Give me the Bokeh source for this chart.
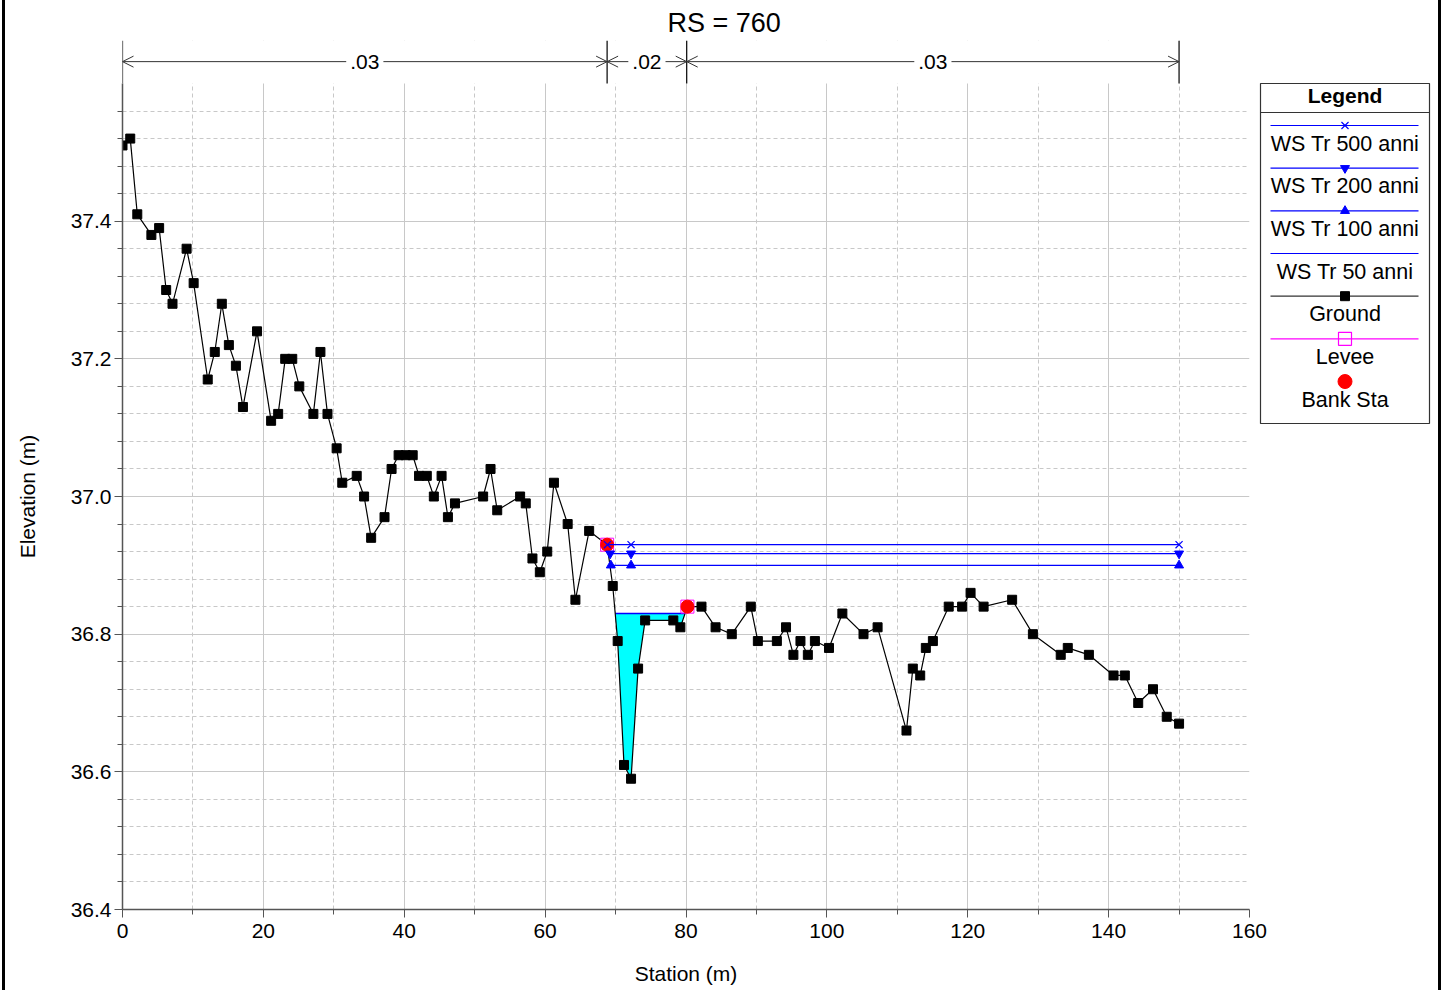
import math
from bokeh.plotting import figure
from bokeh.models import (Range1d, FixedTicker, BoxAnnotation, Arrow, OpenHead,
                          Label, ColumnDataSource, PrintfTickFormatter, Spacer)
from bokeh.layouts import row
from bokeh.embed import file_html
from bokeh.resources import INLINE
from bokeh.core.properties import value

FONT = "Liberation Sans"

# ---------------- data ----------------
ground_sta = [0.0, 1.1, 2.1, 4.1, 5.2, 6.2, 7.1, 9.1, 10.1, 12.1, 13.1, 14.1, 15.1, 16.1,
              17.1, 19.1, 21.1, 22.1, 23.1, 24.1, 25.1, 27.1, 28.1, 29.1, 30.4, 31.2,
              33.25, 34.3, 35.3, 37.2, 38.2, 39.2, 40.2, 41.2, 42.1, 43.2, 44.2, 45.3,
              46.2, 47.2, 51.2, 52.25, 53.2, 56.45, 57.25, 58.2, 59.25, 60.3, 61.25,
              63.2, 64.3, 66.25, 68.8, 69.6, 70.3, 71.2, 72.2, 73.2, 74.2, 78.2, 79.2,
              80.2, 82.2, 84.2, 86.5, 89.2, 90.2, 92.9, 94.2, 95.25, 96.25, 97.3, 98.3,
              100.3, 102.2, 105.2, 107.2, 111.3, 112.2, 113.25, 114.05, 115.05, 117.3,
              119.2, 120.4, 122.25, 126.3, 129.25, 133.2, 134.2, 137.2, 140.7, 142.3,
              144.2, 146.3, 148.25, 150.0]
ground_elev = [37.51, 37.52, 37.41, 37.38, 37.39, 37.30, 37.28, 37.36, 37.31, 37.17, 37.21,
               37.28, 37.22, 37.19, 37.13, 37.24, 37.11, 37.12, 37.20, 37.20, 37.16, 37.12,
               37.21, 37.12, 37.07, 37.02, 37.03, 37.00, 36.94, 36.97, 37.04, 37.06, 37.06,
               37.06, 37.03, 37.03, 37.00, 37.03, 36.97, 36.99, 37.00, 37.04, 36.98, 37.00,
               36.99, 36.91, 36.89, 36.92, 37.02, 36.96, 36.85, 36.95, 36.93, 36.87, 36.79,
               36.61, 36.59, 36.75, 36.82, 36.82, 36.81, 36.84, 36.84, 36.81, 36.80, 36.84,
               36.79, 36.79, 36.81, 36.77, 36.79, 36.77, 36.79, 36.78, 36.83, 36.80, 36.81,
               36.66, 36.75, 36.74, 36.78, 36.79, 36.84, 36.84, 36.86, 36.84, 36.85, 36.80,
               36.77, 36.78, 36.77, 36.74, 36.74, 36.70, 36.72, 36.68, 36.67]

bank_sta = [68.8, 80.2]
bank_elev = [36.93, 36.84]
levee_sta = [68.8, 80.2]
levee_elev = [36.93, 36.84]

ws500_sta = [68.85, 72.2, 150.0]
ws500_elev = 36.93
ws200_sta = [69.23, 72.2, 150.0]
ws200_elev = 36.917
ws100_sta = [69.33, 72.2, 150.0]
ws100_elev = 36.90
ws50_sta = [69.95, 79.85]
ws50_elev = 36.83

n_bounds = [0.0, 68.8, 80.1, 150.0]
n_values = [".03", ".02", ".03"]

x_ticks = [0, 20, 40, 60, 80, 100, 120, 140, 160]
x_minor = [10, 30, 50, 70, 90, 110, 130, 150]
y_ticks = [36.4, 36.6, 36.8, 37.0, 37.2, 37.4]
y_minor = [36.44, 36.48, 36.52, 36.56, 36.64, 36.68, 36.72, 36.76, 36.84, 36.88,
           36.92, 36.96, 37.04, 37.08, 37.12, 37.16, 37.24, 37.28, 37.32, 37.36,
           37.44, 37.48, 37.52, 37.56]

x_title = "Station (m)"
y_title = "Elevation (m)"
legend_labels = ["WS Tr 500 anni", "WS Tr 200 anni", "WS Tr 100 anni", "WS Tr 50 anni",
                 "Ground", "Levee", "Bank Sta"]

# layout constants (page pixels unless noted)
H = 990
TOP = 40
BOTTOM = 81
Y_TOP = 37.6625          # data value at the top of the frame
GRID_TOP = 37.6          # top of the gridded area
ARROW_Y = 37.6318        # roughness arrows
OVERLAP = 17
YLAB_W = 50              # width of the strip holding the y-axis title

# ---------------- y-axis title strip ----------------
yl = figure(width=YLAB_W, height=H, x_range=Range1d(5, 5 + YLAB_W), y_range=Range1d(BOTTOM, H - TOP),
            output_backend="svg", toolbar_location=None, x_axis_type=None, y_axis_type=None,
            min_border_left=0, min_border_right=0, min_border_top=TOP, min_border_bottom=BOTTOM)
yl.outline_line_color = None
yl.background_fill_color = None
yl.border_fill_color = None
yl.grid.visible = False
yl.text(x=[27], y=[H - 496], text=[y_title], angle=math.pi / 2, text_font=value(FONT),
        text_font_size="21px", text_align="center", text_baseline="middle", text_color="black")

# ---------------- main figure ----------------
p = figure(width=1247 + OVERLAP - YLAB_W, height=H, x_range=Range1d(0, 160),
           y_range=Range1d(36.4, Y_TOP),
           output_backend="svg", toolbar_location=None, title="RS = 760",
           min_border_left=117 - YLAB_W, min_border_right=3 + OVERLAP, min_border_top=TOP,
           min_border_bottom=BOTTOM)
p.outline_line_color = None
p.title.align = "left"
p.title.offset = 545
p.title.text_font = FONT
p.title.text_font_size = "27px"
p.title.text_font_style = "normal"
p.title.text_color = "black"
p.title.standoff = 6

for ax in (p.xaxis[0], p.yaxis[0]):
    ax.axis_line_color = "#555555"
    ax.axis_line_width = 1.5
    ax.major_tick_line_color = "#555555"
    ax.minor_tick_line_color = "#555555"
    ax.major_tick_in = 0
    ax.minor_tick_in = 0
    ax.major_tick_out = 8
    ax.minor_tick_out = 5
    ax.major_label_text_font = FONT
    ax.major_label_text_font_size = "21px"
    ax.major_label_text_color = "black"
    ax.axis_label_text_font = FONT
    ax.axis_label_text_font_size = "21px"
    ax.axis_label_text_font_style = "normal"
    ax.axis_label_text_color = "black"

p.xaxis.ticker = FixedTicker(ticks=x_ticks, minor_ticks=x_minor)
p.yaxis.ticker = FixedTicker(ticks=y_ticks, minor_ticks=y_minor)
p.yaxis.formatter = PrintfTickFormatter(format="%.1f")
p.yaxis.bounds = (36.4, GRID_TOP)
p.xaxis.axis_label = x_title
p.xaxis.major_label_standoff = 6
p.xaxis.axis_label_standoff = 21
p.yaxis.major_label_standoff = 3

for g in (p.xgrid[0], p.ygrid[0]):
    g.grid_line_color = "#c8c8c8"
    g.grid_line_width = 1
    g.minor_grid_line_color = "#c8c8c8"
    g.minor_grid_line_dash = "4 3"
    g.minor_grid_line_width = 1

# hide grid in the roughness band above the grid area
p.add_layout(BoxAnnotation(bottom=GRID_TOP, fill_color="white", fill_alpha=1.0,
                           line_color=None, level="underlay"))

# 50-yr water area (cyan), built from ground data
inside = [(s, e) for s, e in zip(ground_sta, ground_elev) if ws50_sta[0] < s < ws50_sta[1]]
poly_x = [ws50_sta[0]] + [s for s, _ in inside] + [ws50_sta[1]]
poly_y = [ws50_elev] + [e for _, e in inside] + [ws50_elev]
p.patch(poly_x, poly_y, fill_color="#00ffff", line_color=None)
p.line(ws50_sta, [ws50_elev] * len(ws50_sta), line_color="blue", line_width=1.5)

# ground
p.line(ground_sta, ground_elev, line_color="black", line_width=1.2)
p.scatter(ground_sta, ground_elev, marker="square", size=9, fill_color="black", line_color="black")

# levee / bank stations
p.scatter(levee_sta, levee_elev, marker="square", size=13, fill_color=None, line_color="magenta", line_width=1)
p.scatter(bank_sta, bank_elev, marker="circle", size=13, fill_color="red", line_color="red")

# water surfaces
for sta, el, mk in ((ws100_sta, ws100_elev, "triangle"),
                    (ws200_sta, ws200_elev, "inverted_triangle"),
                    (ws500_sta, ws500_elev, "x")):
    ys = [el] * len(sta)
    p.line(sta, ys, line_color="blue", line_width=1.2)
    if mk == "x":
        p.scatter(sta, ys, marker="x", size=10, line_color="blue", line_width=1.2)
    else:
        p.scatter(sta, ys, marker=mk, size=9, fill_color="blue", line_color="blue")

# Manning's n band
p.segment(x0=n_bounds, x1=n_bounds, y0=[GRID_TOP] * len(n_bounds), y1=[Y_TOP] * len(n_bounds),
          line_color="black", line_width=1.2)
mids = [(a + b) / 2 for a, b in zip(n_bounds[:-1], n_bounds[1:])]
arrow_src = ColumnDataSource(dict(x0=mids * 2,
                                  x1=list(n_bounds[:-1]) + list(n_bounds[1:]),
                                  y=[ARROW_Y] * (2 * len(n_values))))
p.add_layout(Arrow(x_start="x0", y_start="y", x_end="x1", y_end="y", source=arrow_src,
                   line_color="#333333", line_width=1,
                   end=OpenHead(size=11, line_color="#333333", line_width=1)))
for m, t in zip(mids, n_values):
    p.add_layout(Label(x=m, y=ARROW_Y, text=t, text_align="center", text_baseline="middle",
                       text_font=FONT, text_font_size="21px", text_color="black",
                       background_fill_color="white", background_fill_alpha=1.0, padding=4))

# ---------------- legend panel (page-pixel coordinates) ----------------
LX0, LX1 = 1252, 1438
lf = figure(width=LX1 - LX0, height=H, x_range=Range1d(LX0, LX1), y_range=Range1d(H - BOTTOM, TOP),
            output_backend="svg", toolbar_location=None, x_axis_type=None, y_axis_type=None,
            min_border_left=0, min_border_right=0, min_border_top=TOP, min_border_bottom=BOTTOM,
            margin=(0, 0, 0, -OVERLAP))
lf.outline_line_color = None
lf.background_fill_color = None
lf.border_fill_color = None
lf.grid.visible = False

BX0, BX1, BY0, BY1 = 1260, 1429, 83, 423
CX = (BX0 + BX1) / 2
lf.quad(left=[BX0], right=[BX1], top=[BY0], bottom=[BY1], fill_color="white",
        line_color="#333333", line_width=1.2)
lf.segment(x0=[BX0], x1=[BX1], y0=[112], y1=[112], line_color="#333333", line_width=1.2)
lf.text(x=[CX], y=[95], text=["Legend"], text_font=value(FONT), text_font_size="21px",
        text_font_style="bold", text_align="center", text_baseline="middle", text_color="black")

leg_line_colors = ["blue", "blue", "blue", "blue", "#333333", "magenta", None]
leg_markers = ["x", "inverted_triangle", "triangle", None, "square", "square", "circle"]
for i, lab in enumerate(legend_labels):
    ly = 125 + 42.67 * i
    lc = leg_line_colors[i]
    if lc is not None:
        lf.segment(x0=[1270], x1=[1418], y0=[ly], y1=[ly], line_color=lc, line_width=1.2)
    mk = leg_markers[i]
    if mk == "x":
        lf.scatter([CX], [ly], marker="x", size=10, line_color="blue", line_width=1.2)
    elif mk in ("triangle", "inverted_triangle"):
        lf.scatter([CX], [ly], marker=mk, size=9, fill_color="blue", line_color="blue")
    elif mk == "square" and lab == "Ground":
        lf.scatter([CX], [ly], marker="square", size=9, fill_color="black", line_color="black")
    elif mk == "square":
        lf.scatter([CX], [ly], marker="square", size=13, fill_color=None, line_color="magenta", line_width=1.2)
    elif mk == "circle":
        lf.scatter([CX], [ly], marker="circle", size=14, fill_color="red", line_color="red")
    lf.text(x=[CX], y=[ly + 18], text=[lab], text_font=value(FONT), text_font_size="21.5px",
            text_align="center", text_baseline="middle", text_color="black")

left_gap = Spacer(width=2, height=H)
left_border = Spacer(width=3, height=H, styles={"background-color": "black"})
right_border = Spacer(width=3, height=H, styles={"background-color": "black"})

layout = row(left_gap, left_border, yl, p, lf, right_border, spacing=0)
open("out.html", "w").write(file_html(layout, INLINE))
